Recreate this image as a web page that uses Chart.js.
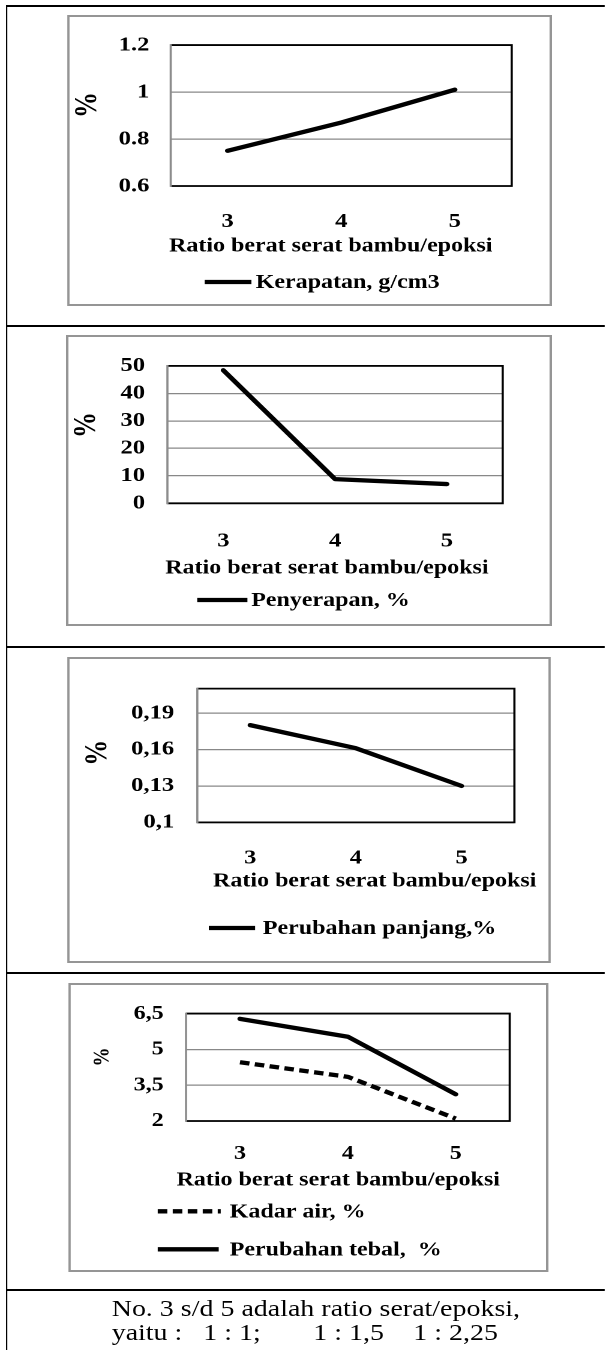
<!DOCTYPE html>
<html>
<head>
<meta charset="utf-8">
<title>Sifat fisik komposit serat bambu/epoksi</title>
<script src="https://cdn.jsdelivr.net/npm/chart.js@4/dist/chart.umd.min.js"></script>
<style>
  html, body { margin: 0; padding: 0; background: #fff; overflow: hidden; }
  #page { position: absolute; left: 0; top: 0; width: 504.2px; height: 1350px;
          transform: scaleX(1.2); transform-origin: 0 0; }
  .rule { position: absolute; background: #000; }
  .box { position: absolute; border: 2px solid #959595; box-sizing: border-box; background: #fff; }
  canvas { position: absolute; }
  .cap { position: absolute; font-family: 'Liberation Serif', 'Times New Roman', serif;
         font-size: 23.3px; line-height: 24px; white-space: pre; color: #000; }
</style>
</head>
<body>
<div id="page"></div>
<script>
// The sheet is laid out in page pixels and then widened horizontally by SX.
const SX = 1.2;
const FONT = "'Liberation Serif', 'Times New Roman', serif";

// ---- data -------------------------------------------------------------
const categories = ['3', '4', '5'];

const kerapatan        = [0.75, 0.87, 1.01];
const penyerapan       = [48.4, 8.8, 7.0];
const perubahanPanjang = [0.18, 0.161, 0.13];
const kadarAir         = [4.46, 3.85, 2.1];
const perubahanTebal   = [6.28, 5.53, 3.12];

const yRange1 = [0.6, 1.2];
const yTicks1 = [0.6, 0.8, 1, 1.2];
const yLabels1 = ['0.6', '0.8', '1', '1.2'];

const yRange2 = [0, 50];
const yTicks2 = [0, 10, 20, 30, 40, 50];
const yLabels2 = ['0', '10', '20', '30', '40', '50'];

const yRange3 = [0.1, 0.21];
const yTicks3 = [0.1, 0.13, 0.16, 0.19];
const yLabels3 = ['0,1', '0,13', '0,16', '0,19'];

const yRange4 = [2, 6.5];
const yTicks4 = [2, 3.5, 5, 6.5];
const yLabels4 = ['2', '3,5', '5', '6,5'];

const xTitle = 'Ratio berat serat bambu/epoksi';
const yTitle = '%';

// ---- panel layout (page pixels) --------------------------------------
const panels = [
  {
    series: [{ label: 'Kerapatan, g/cm3', data: kerapatan, dash: [] }],
    range: yRange1, ticks: yTicks1, labels: yLabels1,
    box: [67.5, 15, 551.7, 306], plot: [171, 33, 512, 186],
    tickSize: 20.5, yLabelRight: 149.7, xLabelY: 221.7,
    yTitlePos: [88.3, 105], yTitleSize: 26,
    xTitlePos: [331, 246.5],
    legend: [[205, 251.7, 256, 282]]
  },
  {
    series: [{ label: 'Penyerapan, %', data: penyerapan, dash: [] }],
    range: yRange2, ticks: yTicks2, labels: yLabels2,
    box: [65.6, 335, 551.7, 626], plot: [167, 348.3, 502.3, 503.3],
    tickSize: 20.5, yLabelRight: 144.7, xLabelY: 541,
    yTitlePos: [86.6, 425], yTitleSize: 26,
    xTitlePos: [326.5, 568.3],
    legend: [[196.8, 247, 250.8, 600]]
  },
  {
    series: [{ label: 'Perubahan panjang,%', data: perubahanPanjang, dash: [] }],
    range: yRange3, ticks: yTicks3, labels: yLabels3,
    box: [66.7, 657.3, 549.8, 963.3], plot: [196.8, 669.3, 513.9, 822.7],
    tickSize: 20.5, yLabelRight: 173.6, xLabelY: 858.3,
    yTitlePos: [97.4, 753], yTitleSize: 26,
    xTitlePos: [374.2, 881.7],
    legend: [[208.3, 254.6, 262.3, 928.3]]
  },
  {
    series: [
      { label: 'Kadar air, %', data: kadarAir, dash: [8, 4.5] },
      { label: 'Perubahan tebal,  %', data: perubahanTebal, dash: [] }
    ],
    range: yRange4, ticks: yTicks4, labels: yLabels4,
    box: [68.7, 982.7, 548.6, 1271.7], plot: [186.3, 997.3, 510, 1120.7],
    tickSize: 20, yLabelRight: 164, xLabelY: 1153.3,
    yTitlePos: [103.2, 1056.7], yTitleSize: 19,
    xTitlePos: [338.5, 1180],
    legend: [[158, 221, 230, 1211], [158, 219, 230, 1249]]
  }
];

const page = document.getElementById('page');

// table rules
function rule(x, y, w, h) {
  const d = document.createElement('div');
  d.className = 'rule';
  d.style.left = (x / SX) + 'px';
  d.style.top = y + 'px';
  d.style.width = (w / SX) + 'px';
  d.style.height = h + 'px';
  page.appendChild(d);
}
rule(5.5, 5, 2, 1345);
[5, 325, 646, 972.3, 1289].forEach(y => rule(5.5, y, 605 - 5.5, 2));

function makeChart(p) {
  const bl = p.box[0] / SX, bt = p.box[1];
  const W = Math.round((p.box[2] - p.box[0]) / SX);
  const H = Math.round(p.box[3] - p.box[1]);

  const frameDiv = document.createElement('div');
  frameDiv.className = 'box';
  Object.assign(frameDiv.style, { left: bl + 'px', top: bt + 'px', width: W + 'px', height: H + 'px' });
  const cv = document.createElement('canvas');
  cv.width = W; cv.height = H;
  Object.assign(cv.style, { left: bl + 'px', top: bt + 'px', width: W + 'px', height: H + 'px' });
  page.appendChild(frameDiv);
  page.appendChild(cv);

  const px = x => x / SX - bl;
  const py = y => y - bt;
  const plotL = px(p.plot[0]), plotT = py(p.plot[1]), plotR = px(p.plot[2]), plotB = py(p.plot[3]);
  const tickFont = { family: FONT, size: p.tickSize, weight: 'bold' };

  const plotFrame = {
    id: 'plotFrame',
    beforeDatasetsDraw(chart) {
      const { ctx, chartArea: a } = chart;
      ctx.save();
      ctx.lineWidth = 1.8;
      ctx.strokeStyle = '#000';
      ctx.beginPath();
      ctx.moveTo(a.left, a.top);
      ctx.lineTo(a.right, a.top);
      ctx.lineTo(a.right, a.bottom);
      ctx.lineTo(a.left, a.bottom);
      ctx.stroke();
      ctx.strokeStyle = '#8c8c8c';
      ctx.beginPath();
      ctx.moveTo(a.left, a.top - 0.9);
      ctx.lineTo(a.left, a.bottom + 0.9);
      ctx.stroke();
      ctx.restore();
    }
  };

  const captions = {
    id: 'captions',
    afterDraw(chart) {
      const ctx = chart.ctx;
      ctx.save();
      ctx.fillStyle = '#000';
      ctx.textBaseline = 'middle';

      // vertical axis title
      ctx.save();
      ctx.font = `bold ${p.yTitleSize}px ${FONT}`;
      ctx.translate(px(p.yTitlePos[0]), py(p.yTitlePos[1]));
      ctx.rotate(-Math.PI / 2);
      ctx.textAlign = 'center';
      ctx.fillText(yTitle, 0, 0);
      ctx.restore();

      // horizontal axis title
      ctx.font = `bold 20px ${FONT}`;
      ctx.textAlign = 'center';
      ctx.fillText(xTitle, px(p.xTitlePos[0]), py(p.xTitlePos[1]));

      // legend entries, one per row
      ctx.textAlign = 'left';
      p.legend.forEach((row, i) => {
        const ds = chart.data.datasets[i];
        const y = py(row[3]);
        ctx.save();
        ctx.strokeStyle = ds.borderColor;
        ctx.lineWidth = ds.borderWidth;
        ctx.setLineDash(ds.borderDash || []);
        ctx.beginPath();
        ctx.moveTo(px(row[0]), y);
        ctx.lineTo(px(row[1]), y);
        ctx.stroke();
        ctx.restore();
        ctx.fillText(ds.label, px(row[2]), y + 1);
      });
      ctx.restore();
    }
  };

  return new Chart(cv, {
    type: 'line',
    data: {
      labels: categories,
      datasets: p.series.map(s => ({
        label: s.label,
        data: s.data,
        borderColor: '#000',
        borderWidth: 4.3,
        borderDash: s.dash,
        borderCapStyle: s.dash.length ? 'butt' : 'round',
        borderJoinStyle: 'round',
        pointRadius: 0,
        pointHoverRadius: 0,
        tension: 0,
        fill: false
      }))
    },
    options: {
      responsive: false,
      animation: false,
      devicePixelRatio: 2,
      layout: { padding: { left: 0, top: plotT, right: W - plotR, bottom: 0 } },
      plugins: { legend: { display: false }, tooltip: { enabled: false } },
      scales: {
        x: {
          type: 'category',
          offset: true,
          grid: { display: false, drawTicks: false, tickLength: 0 },
          border: { display: false },
          ticks: {
            color: '#000', font: tickFont, autoSkip: false, maxRotation: 0,
            padding: (p.xLabelY - p.plot[3]) - 0.6 * p.tickSize
          },
          afterFit: s => { s.height = H - plotB; }
        },
        y: {
          min: p.range[0],
          max: p.range[1],
          grid: { color: '#888', lineWidth: 1.2, drawTicks: false, tickLength: 0 },
          border: { display: false },
          ticks: {
            color: '#000', font: tickFont, autoSkip: false,
            padding: (p.plot[0] - p.yLabelRight) / SX,
            callback: (v, i) => p.labels[i]
          },
          afterBuildTicks: s => { s.ticks = p.ticks.map(v => ({ value: v })); },
          afterFit: s => { s.width = plotL; }
        }
      }
    },
    plugins: [plotFrame, captions]
  });
}

panels.forEach(makeChart);

// note under the table
function capLine(text, x, top) {
  const d = document.createElement('div');
  d.className = 'cap';
  d.textContent = text;
  d.style.left = (x / SX) + 'px';
  d.style.top = top + 'px';
  page.appendChild(d);
}
capLine('No. 3 s/d 5 adalah ratio serat/epoksi,', 111.7, 1296);
capLine('yaitu :', 111.7, 1320);
capLine('1 : 1;', 203.3, 1320);
capLine('1 : 1,5', 313.3, 1320);
capLine('1 : 2,25', 413.3, 1320);
</script>
</body>
</html>
